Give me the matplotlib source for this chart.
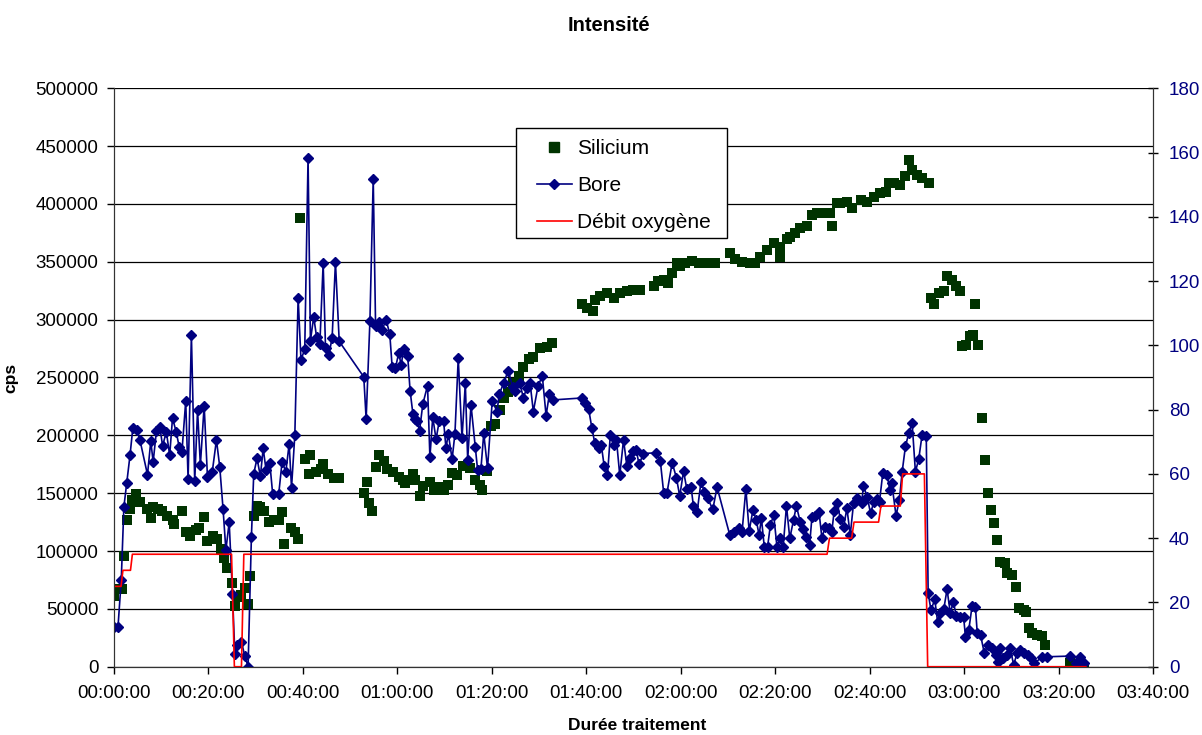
import matplotlib
matplotlib.use("Agg")
import matplotlib.pyplot as plt
from matplotlib.ticker import FuncFormatter, MultipleLocator
from matplotlib.lines import Line2D
from matplotlib.patches import Rectangle

plt.rcParams['font.family'] = ['Liberation Sans', 'DejaVu Sans']

# time in minutes since start of treatment
si_t = [0, 1.1, 1.6, 2.1, 2.8, 3.4, 3.9, 4.7, 5.6, 7.1, 7.8, 8.3, 9.3, 10.2, 11.3, 12.4, 12.8,
        14.5, 15.2, 16.2, 17.3, 18.1, 19.1, 19.6, 21.0, 21.9, 22.6, 23.4, 24.0, 24.9, 25.6,
        26.1, 26.8, 27.7, 28.4, 28.9, 29.6, 30.2, 31.0, 31.8, 32.9, 33.9, 34.9, 35.6, 36.1,
        37.4, 38.3, 39.0, 39.5, 40.4, 41.3, 41.5, 42.7, 43.8, 44.3, 45.3, 46.6, 47.6,
        52.9, 53.5, 54.0, 54.7, 55.5, 56.1, 57.2, 57.9, 59.1, 60.3, 61.3, 61.6, 63.4, 63.8,
        64.7, 65.5, 66.9, 67.7, 68.7, 69.8, 70.8, 71.5, 72.6, 74.0, 75.4, 76.5, 77.5, 77.9,
        79.0, 79.8, 80.7, 81.8, 82.5, 83.5, 84.6, 85.7, 86.7, 87.8, 88.8, 90.3, 91.7, 92.7,
        99.1, 100.1, 101.5, 101.9, 102.9, 104.4, 105.8, 107.2, 108.6, 110.0, 111.4, 114.3,
        115.3, 116.4, 117.4, 118.1, 119.2, 119.9, 120.9, 122.4, 123.8, 125.6, 127.3,
        130.5, 131.6, 133.0, 134.7, 135.8, 136.9, 138.3, 139.7, 141.0, 141.1, 142.5, 143.2,
        144.3, 145.3, 146.7, 147.8, 148.9, 150.3, 151.7, 152.0, 153.1, 153.8, 155.2, 156.3,
        158.2, 159.5, 160.9, 162.3, 163.4, 164.1, 165.1, 166.5, 167.4, 168.3, 169.0, 170.0,
        171.1, 172.5, 172.9, 173.6, 174.6, 175.7, 176.4, 177.5, 178.2, 179.2, 179.6, 180.5,
        181.3, 182.0, 182.4, 182.9, 183.7, 184.4, 185.1, 185.8, 186.4, 187.0, 187.7, 188.6,
        189.1, 190.2, 191.1, 191.6, 192.7, 193.2, 193.7, 194.4, 195.5, 196.5, 197.2,
        202.5, 203.9, 205.4]
si_v = [61100, 67100, 67100, 95800, 127200, 136500, 144100, 149700, 142100, 136500, 128200,
        138100, 136500, 134200, 129900, 126600, 123300, 134200, 116700, 113400, 118300,
        120000, 129200, 108400, 113400, 110000, 101800, 94200, 85300, 72000, 52200, 60500,
        62100, 67700, 54500, 78000, 129900, 139100, 138100, 134800, 124900, 126600, 126600,
        133800, 106100, 120000, 116700, 110000, 387600, 179400, 166200, 182700, 167900,
        171200, 175500, 166200, 162900, 162900,
        150400, 159600, 141400, 134800, 172800, 182700, 177800, 171200, 167900, 163600,
        161600, 158700, 166700, 161600, 147800, 155800, 160100, 152900, 155200, 152900,
        157300, 167300, 165900, 173100, 171700, 161600, 157300, 152900, 168800, 208200,
        209900, 222000, 232100, 237800, 245100, 251400, 259400, 265800, 268100, 275300,
        276200, 280200,
        313100, 310200, 307300, 317400, 320300, 323200, 318800, 323200, 324600, 326000,
        326000, 328900, 333300, 334700, 331800, 340500, 349100, 346300, 349100, 350600,
        349100, 348700, 348700,
        357300, 352200, 350100, 348700, 348700, 354500, 360200, 366000, 353900, 363100,
        369500, 371800, 375200, 379000, 381000, 390500, 391900, 391900, 392500, 381000,
        400600, 400600, 402000, 396300, 403500, 402000, 406300, 409200, 410700, 417900,
        417900, 416400, 424200, 438000, 429400, 425100, 422200, 417900,
        318800, 313100, 323200, 324600, 337600, 334700, 328900, 324600, 277000, 278400,
        286200, 287100, 313900, 278400, 215000, 178900, 150000, 135600, 124100, 109700,
        90900, 89500, 81400, 79400, 68700, 50500, 49100, 47600, 33800, 28900, 27400,
        26600, 18800, 2900, 1400, 0]

bore_t = [0, 0.85, 1.55, 2.1, 2.7, 3.4, 4.0, 4.8, 5.5, 7.1, 7.8, 8.3, 9.0, 9.7, 10.3, 11.1,
          11.8, 12.4, 13.2, 13.8, 14.4, 15.2, 15.7, 16.4, 17.1, 17.7, 18.3, 19.1, 19.8, 20.8,
          21.7, 22.4, 23.1, 23.7, 24.4, 25.1, 25.6, 26.1, 27.0, 27.7, 28.4, 29.1, 29.6, 30.3,
          31.0, 31.6, 32.2, 33.0, 33.6, 34.9, 35.6, 36.4, 37.1, 37.6, 38.3, 39.0, 39.6, 40.4,
          41.1, 41.6, 42.3, 42.9, 43.6, 44.3, 44.8, 45.5, 46.2, 46.9, 47.7, 52.9, 53.4, 54.2,
          54.9, 55.4, 56.1, 56.8, 57.6, 58.4, 58.9, 59.6, 60.3, 60.8, 61.4, 62.2, 62.7, 63.3,
          63.8, 64.2, 64.7, 65.4, 66.4, 66.9, 67.5, 68.2, 68.9, 69.8, 70.3, 70.8, 71.6, 72.2,
          72.9, 73.7, 74.4, 74.9, 75.6, 76.5, 77.0, 77.7, 78.3, 79.1, 80.1, 81.1, 81.6, 82.5,
          83.5, 84.4, 85.0, 85.9, 86.7, 87.4, 88.1, 88.8, 89.8, 90.7, 91.5, 92.2, 92.9,
          99.1, 99.7, 100.5, 101.2, 101.8, 102.6, 103.2, 103.8, 104.5, 105.1, 105.8, 106.4,
          107.1, 107.9, 108.6, 109.3, 110.0, 110.6, 111.2, 112.1, 114.8, 115.7, 116.4, 117.1,
          118.2, 119.1, 119.8, 120.6, 121.3, 122.2, 122.7, 123.5, 124.3, 125.0, 125.7, 126.8,
          127.7, 130.4, 131.3, 132.3, 133.0, 133.8, 134.5, 135.3, 136.0, 136.6, 137.1, 137.7,
          138.4, 139.0, 139.7, 140.4, 141.0, 141.7, 142.4, 143.1, 143.9, 144.5, 145.3, 146.0,
          146.6, 147.3, 147.8, 148.5, 149.3, 149.9, 150.6, 151.3, 152.0, 152.5, 153.2, 153.8,
          154.5, 155.2, 155.9, 156.6, 157.3, 158.3, 158.7, 159.5, 160.2, 160.9, 161.6, 162.1,
          162.8, 163.7, 164.3, 164.7, 165.6, 166.3, 166.9, 167.6, 168.3, 169.0, 169.7, 170.4,
          171.1, 172.0, 172.4, 173.0, 173.8, 174.4, 175.0, 175.7, 176.4, 177.1, 177.7, 178.4,
          179.2, 179.9, 180.3, 181.0, 181.7, 182.4, 182.8, 183.5, 184.3, 185.0, 186.0, 186.7,
          187.1, 187.7, 188.3, 189.0, 189.8, 190.5, 191.2, 191.9, 192.8, 193.6, 194.2, 194.8,
          196.5, 197.6, 202.5, 203.6, 204.5, 205.4]
bore_v = [34000, 34000, 75300, 138000, 158600, 182700, 206500, 205000, 196000, 166000, 195000,
          177000, 204000, 207500, 191000, 203000, 182700, 215000, 202600, 190300, 186000,
          229700, 161900, 286800, 160300, 221700, 174500, 225700, 164000, 167900, 196000,
          172800, 136500, 100800, 124900, 62800, 10900, 19200, 21500, 9300, 0, 111700, 166900,
          180100, 164600, 188700, 170200, 176100, 149700, 149700, 177100, 168500, 192700,
          154700, 200300, 318900, 265400, 274300, 439900, 281900, 302400, 285200, 279300,
          348700, 275300, 269300, 284500, 349600, 281200, 250500, 214100, 299000, 421700,
          294100, 298400, 291100, 300000, 287800, 259400, 258100, 271300, 261000, 275000,
          268600, 238700, 218600, 214000, 212000, 204000, 227000, 243000, 181100, 215700,
          196700, 212800, 212500, 188900, 201300, 179400, 201300, 266600, 197500, 245000,
          178800, 226300, 190300, 170200, 170700, 201600, 171600, 229800, 220600, 235800,
          245000, 256000, 242200, 238700, 245000, 232700, 240700, 245600, 220600, 242700,
          251400, 217100, 235800, 230600,
          232300, 228300, 223100, 206100, 193700, 188800, 191400, 173500, 165500, 200000,
          191900, 196200, 165400, 196200, 173500, 180000, 186300, 186900, 174800, 184300,
          184900, 177400, 150300, 150300, 176300, 163300, 147400, 169000, 153700, 155500,
          138800, 134100, 160000, 151400, 145600, 136000, 155200, 113800, 116700, 119600,
          116700, 153700, 117300, 135400, 126800, 113800, 128200, 103700, 103700, 122500,
          131100, 103200, 110900, 103700, 139000, 110900, 126800, 139000, 125400, 118700,
          111800, 105200, 129700, 130600, 133400, 111500, 121000, 119600, 116700, 134600,
          141200, 127400, 121000, 136900, 113800, 141200, 145600, 141200, 156200, 147000,
          132500, 142600, 144600, 142600, 167700, 165700, 152800, 158500, 130600, 144100,
          168600, 190800, 201700, 211000, 168600, 179300, 200000, 199100, 63500, 49000,
          58200, 38900, 46100, 49600, 66900, 46100, 56200, 43800, 43200, 43200, 26000,
          31700, 52500, 51900, 28800, 27400, 11500, 18700, 15900, 10100, 4300, 15900, 7200,
          10100, 15900, 1400, 11500, 14400, 11500, 10100, 7200, 2900, 8100, 8600, 9200,
          2900, 8100, 2900]

o2_t = [0, 1.5, 1.9, 3.5, 3.9, 24.9, 25.5, 27.0, 27.5, 151.0, 151.5, 156.2, 156.7,
        161.9, 162.4, 166.5, 167.0, 171.6, 172.3, 205.8]
o2_v = [25, 25, 30, 30, 35, 35, 0, 0, 35, 35, 40, 40, 45, 45, 50, 50, 60, 60, 0, 0]

green = '#003300'
navy = '#000080'

fig = plt.figure(figsize=(12.02, 7.35), dpi=100)
ax = fig.add_axes([0.0948, 0.0929, 0.8644, 0.787])
ax2 = ax.twinx()

ax.scatter(si_t, si_v, marker='s', s=7**2, color=green, linewidths=0, zorder=3)
ax.plot(bore_t, bore_v, color=navy, lw=1.2, marker='D', ms=4.7, zorder=4)
ax2.plot(o2_t, o2_v, color='red', lw=1.2, zorder=2)

ax.set_xlim(0, 220)
ax.set_ylim(0, 500000)
ax2.set_ylim(0, 180)
ax.xaxis.set_major_locator(MultipleLocator(20))
ax.yaxis.set_major_locator(MultipleLocator(50000))
ax2.yaxis.set_major_locator(MultipleLocator(20))
ax.xaxis.set_major_formatter(FuncFormatter(
    lambda m, p: '%02d:%02d:00' % (int(m) // 60, int(m) % 60)))

ax.grid(axis='y', color='black', lw=0.9)
ax.set_axisbelow(True)
ax.tick_params(axis='both', direction='out', length=5, width=1, labelsize=13.5)
ax.tick_params(axis='x', pad=8)
ax.tick_params(axis='y', pad=6)
ax2.tick_params(axis='y', direction='inout', length=7, width=1, labelsize=13.5,
                labelcolor=navy, pad=8)
for a in (ax, ax2):
    a.spines['top'].set_visible(False)
    for s in ('left', 'bottom', 'right'):
        a.spines[s].set_color('#333333')

ax.set_ylabel('cps', fontsize=12.5, fontweight='bold')
ax.yaxis.set_label_coords(-0.092, 0.5)
ax.set_xlabel('Durée traitement', fontsize=12.5, fontweight='bold')
ax.xaxis.set_label_coords(0.504, -0.089)
fig.text(0.507, 0.965, 'Intensité', ha='center', va='center', fontsize=14.5,
         fontweight='bold')

# legend box drawn by hand (wider side padding than top/bottom)
ax2.add_patch(Rectangle((515.7 / 1202, 1 - 238.3 / 735), 211.6 / 1202, 110 / 735,
                        transform=fig.transFigure, facecolor='white', edgecolor='black',
                        lw=1, zorder=4.8, clip_on=False))
handles = [Line2D([], [], color=green, marker='s', ms=7, ls='none'),
           Line2D([], [], color=navy, marker='D', ms=4.7, lw=1.2),
           Line2D([], [], color='red', lw=1.2)]
leg = ax2.legend(handles, ['Silicium', 'Bore', 'Débit oxygène'],
                 loc='upper left', bbox_to_anchor=(536.7 / 1202, 1 - 139 / 735),
                 bbox_transform=fig.transFigure, fontsize=15, frameon=False,
                 borderpad=0, labelspacing=0.86, handlelength=1.68, handletextpad=0.25,
                 borderaxespad=0)
leg.set_zorder(5)

plt.savefig('out.png', dpi=100)
